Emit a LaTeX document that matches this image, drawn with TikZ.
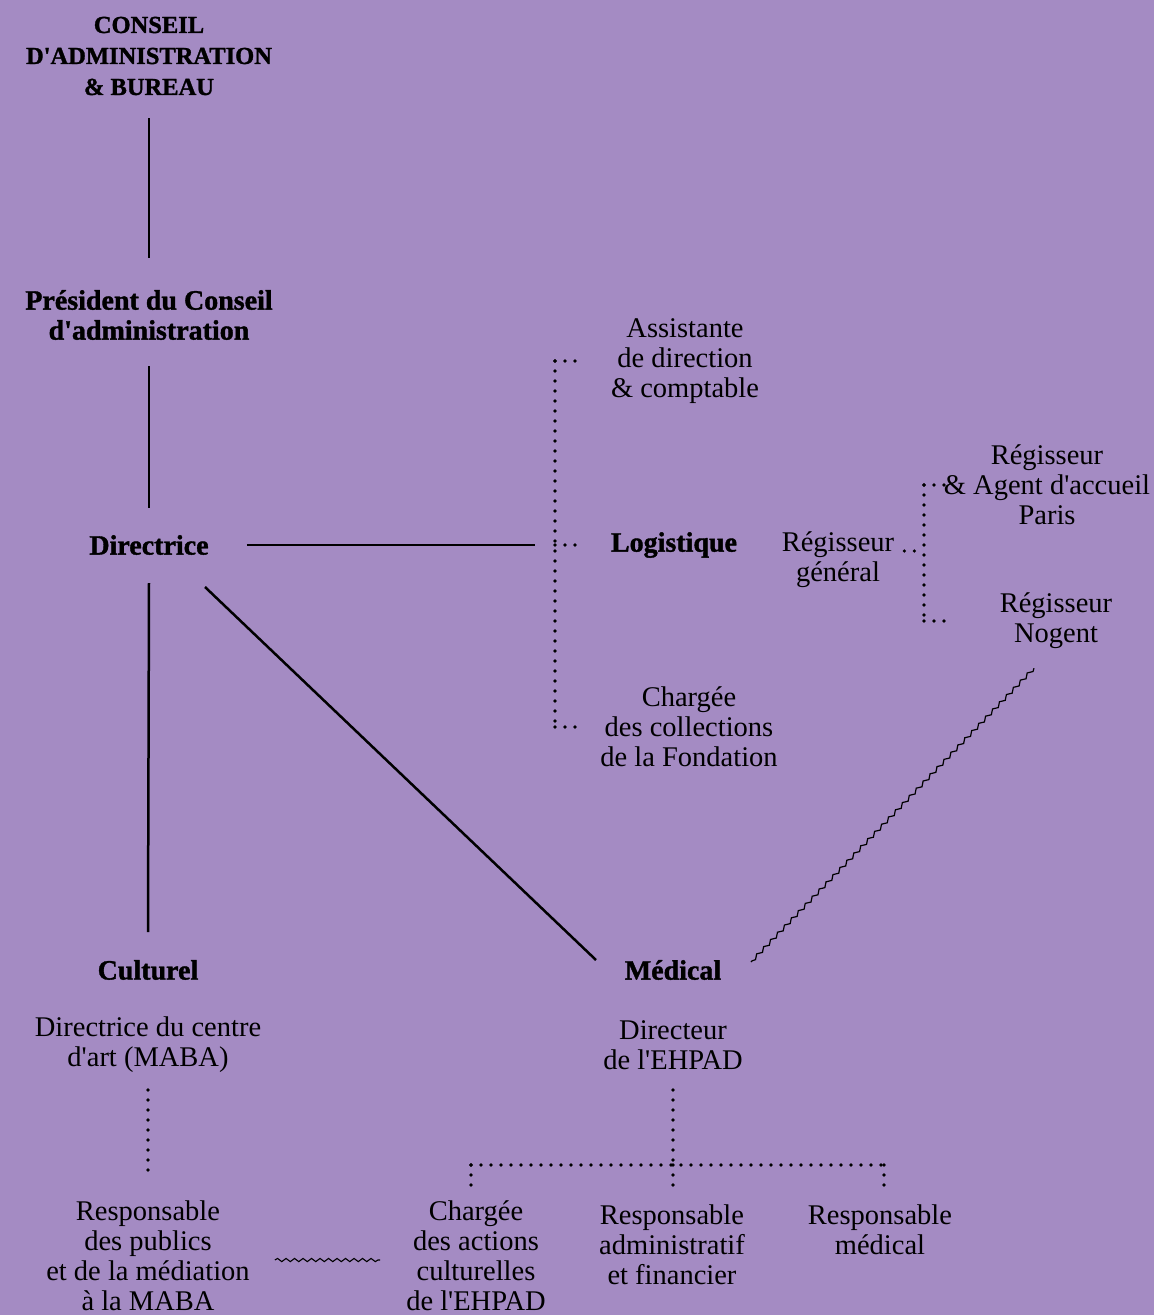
\documentclass[tikz,border=0pt]{standalone}
\usepackage{fontspec}
\setmainfont{Liberation Serif}[BoldFeatures={FakeBold=1.3}]
\usetikzlibrary{calc,decorations.pathmorphing}
\definecolor{bg}{RGB}{164,139,195}
\newcommand{\apo}{\textquotesingle}
\tikzset{
  body/.style={font=\fontsize{28.5}{30}\selectfont, align=center, inner sep=0pt},
  head/.style={font=\bfseries\fontsize{28}{30}\selectfont, align=center, inner sep=0pt},
  capshead/.style={font=\bfseries\fontsize{24.5}{31}\selectfont, align=center, inner sep=0pt},
  link/.style={line width=2.5pt},
  dotlink/.style={line width=3.6pt, line cap=round, dash pattern=on 0pt off 10pt},
  wave/.style={line width=1.2pt, decorate, decoration={snake, amplitude=1.6pt, segment length=10pt}}
}
\begin{document}
\begin{tikzpicture}[x=1pt,y=-1pt]
\fill[bg] (0,0) rectangle (1154,1315);
\useasboundingbox (0,0) rectangle (1154,1315);

% nodes
\node[capshead] (conseil) at (149,56) {CONSEIL\\D\apo ADMINISTRATION\\\&~BUREAU};
\node[head] (president) at (149,315) {Président du Conseil\\d\apo administration};
\node[head] (directrice) at (149,545) {Directrice};
\node[head] (logistique) at (674,545) {Logistique};
\node[head] (culturel) at (148,970) {Culturel};
\node[head] (medical) at (673,970) {Médical};

\node[body] (assistante) at (685,361) {Assistante\\de direction\\\& comptable};
\node[body] (collections) at (689,727) {Chargée\\des collections\\de la Fondation};
\node[body] (regisseur) at (838,560) {Régisseur\\général};
\node[body] (paris) at (1047,485) {Régisseur\\\& Agent d\apo accueil\\Paris};
\node[body] (nogent) at (1056,621) {Régisseur\\Nogent};
\node[body] (dircentre) at (148,1045) {Directrice du centre\\d\apo art (MABA)};
\node[body] (direhpad) at (673,1045) {Directeur\\de l\apo EHPAD};
\node[body] (publics) at (148,1256) {Responsable\\des publics\\et de la médiation\\à la MABA};
\node[body] (actions) at (476,1256) {Chargée\\des actions\\culturelles\\de l\apo EHPAD};
\node[body] (admin) at (672,1245) {Responsable\\administratif\\et financier};
\node[body] (medresp) at (880,1230) {Responsable\\médical};

% spine coordinates
\coordinate (lspine) at (555,545);
\coordinate (rspine) at (924,551);
\coordinate (hbar) at (673,1165);
\coordinate (hL) at (471,1165);
\coordinate (hR) at (884,1165);

% solid links
\draw[link] (conseil.south |- 0,118) -- (president.north |- 0,258);
\draw[link] (president.south |- 0,366) -- (directrice.north |- 0,508);
\draw[link] ($(directrice.east)+(38,0)$) -- ($(lspine)+(-20,0)$);
\draw[link] (directrice.south |- 0,583) -- (culturel.north |- 0,932);
\draw[link] ($(directrice.center)+(56,42)$) -- ($(medical.center)+(-77,-10)$);

% dotted brackets
\draw[dotlink] (assistante.west -| lspine) -- (collections.west -| lspine);
\draw[dotlink] (assistante.west -| lspine) -- ++(22,0);
\draw[dotlink] (lspine) -- ++(22,0);
\draw[dotlink] (collections.west -| lspine) -- ++(22,0);

\draw[dotlink] ($(regisseur.east |- rspine)+(10,0)$) -- (rspine);
\draw[dotlink] (paris.west -| rspine) -- (nogent.west -| rspine);
\draw[dotlink] (paris.west -| rspine) -- ++(22,0);
\draw[dotlink] (nogent.west -| rspine) -- ++(22,0);

\draw[dotlink] (dircentre.south |- 0,1090) -- (publics.north |- 0,1180);
\draw[dotlink] (direhpad.south |- 0,1090) -- (hbar);
\draw[dotlink] (hL) -- (hR);
\draw[dotlink] (hL) -- ++(0,22);
\draw[dotlink] (hbar) -- ++(0,22);
\draw[dotlink] (hR) -- ++(0,22);

% wavy links
\draw[wave] ($(nogent.south)+(-22,19)$) -- ($(medical.center)+(78,-8)$);
\draw[wave, decoration={amplitude=1.6pt, segment length=8.5pt}, line width=1.1pt] ($(publics.east)+(25,4)$) -- ($(actions.west)+(-26,4)$);
\end{tikzpicture}
\end{document}
